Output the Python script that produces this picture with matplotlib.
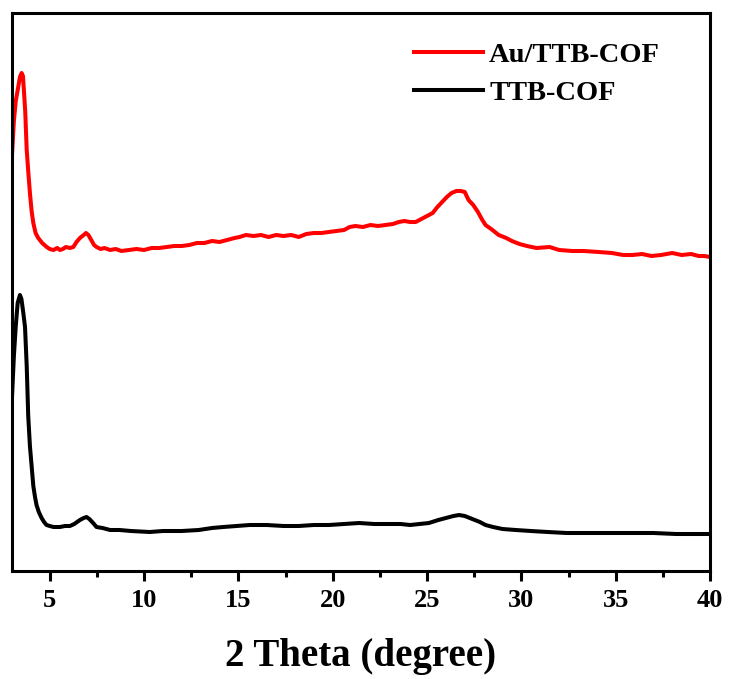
import matplotlib
matplotlib.use("Agg")
import matplotlib.pyplot as plt
from matplotlib.ticker import MultipleLocator

# 2 theta (degree) and intensity (a.u.)
au_x = [3.0, 3.1, 3.2, 3.33, 3.42, 3.51, 3.58, 3.63, 3.7, 3.78, 3.86, 3.95, 4.04, 4.13, 4.25,
        4.39, 4.6, 4.84, 5.0, 5.2, 5.4, 5.54, 5.7, 5.85, 6.07, 6.25, 6.42, 6.6, 6.8, 6.92,
        7.05, 7.2, 7.35, 7.48, 7.7, 7.9, 8.2, 8.5, 8.8, 9.2, 9.6, 10.0, 10.4, 10.8, 11.2,
        11.6, 12.0, 12.4, 12.8, 13.2, 13.6, 14.0, 14.4, 14.8, 15.06, 15.4, 15.8, 16.2, 16.6,
        17.0, 17.4, 17.8, 18.2, 18.6, 19.0, 19.4, 19.8, 20.2, 20.6, 20.9, 21.2, 21.6, 22.0,
        22.4, 22.8, 23.2, 23.5, 23.8, 24.1, 24.4, 24.7, 25.0, 25.3, 25.55, 25.8, 26.05, 26.3,
        26.55, 26.8, 27.0, 27.2, 27.45, 27.7, 27.9, 28.1, 28.4, 28.8, 29.2, 29.5, 29.9, 30.3,
        30.8, 31.5, 32.0, 32.7, 33.3, 34.1, 34.8, 35.4, 35.9, 36.4, 36.9, 37.4, 38.0, 38.5,
        39.0, 39.4, 39.7, 40.0]
au_y = [416, 450, 470, 484, 494, 498, 495, 481, 460, 421, 400, 378, 360, 348, 338,
        333, 328, 324, 322, 321, 323, 321, 322, 324, 323, 324, 329, 333, 336, 338,
        336, 331, 326, 324, 322, 323, 321, 322, 320, 321, 322, 321, 323, 323, 324,
        325, 325, 326, 328, 328, 330, 329, 331, 333, 334, 336, 335, 336, 334, 336,
        335, 336, 334, 337, 338, 338, 339, 340, 341, 344, 345, 344, 346, 345, 346,
        347, 349, 350, 349, 349, 352, 355, 358, 364, 369, 374, 378, 380, 380, 379,
        371, 366, 359, 352, 346, 342, 336, 333, 330, 327, 325, 323, 324, 321, 320,
        320, 319, 318, 316, 316, 317, 315, 316, 318, 316, 317, 315, 315, 314]

cof_x = [3.0, 3.1, 3.2, 3.3, 3.42, 3.5, 3.6, 3.69, 3.78, 3.86, 3.95, 4.04, 4.13, 4.22, 4.3,
         4.42, 4.57, 4.7, 4.83, 5.0, 5.2, 5.54, 5.8, 6.07, 6.3, 6.6, 6.8, 6.95, 7.1, 7.3,
         7.48, 7.8, 8.2, 8.7, 9.3, 10.3, 11.0, 12.0, 12.9, 13.6, 14.2, 14.9, 15.6, 16.5,
         17.4, 18.2, 19.0, 19.8, 20.6, 21.4, 22.2, 23.0, 23.6, 24.1, 24.6, 25.1, 25.6, 26.0,
         26.4, 26.7, 27.0, 27.4, 27.8, 28.1, 28.5, 29.0, 29.7, 30.5, 31.4, 32.4, 33.5, 34.7,
         35.9, 37.0, 38.2, 39.2, 40.0]
cof_y = [174, 215, 245, 268, 276, 272, 258, 244, 205, 155, 125, 105, 85, 74, 66,
         59, 53, 49, 46, 45, 44, 44, 45, 45, 47, 51, 53, 54, 52, 48,
         44, 43, 41, 41, 40, 39, 40, 40, 41, 43, 44, 45, 46, 46,
         45, 45, 46, 46, 47, 48, 47, 47, 47, 46, 47, 48, 51, 53,
         55, 56, 55, 52, 49, 46, 44, 42, 41, 40, 39, 38, 38, 38,
         38, 38, 37, 37, 37]

labels = ["Au/TTB-COF", "TTB-COF"]
colors = ["#ff0000", "#000000"]

plt.rcParams['font.family'] = ['Liberation Serif', 'DejaVu Serif']
plt.rcParams['font.weight'] = 'bold'

fig = plt.figure(figsize=(7.29, 6.79), dpi=100)
ax = fig.add_axes([12/729, 1 - 571/679, (710 - 12)/729, (571 - 13)/679])

ax.plot(au_x, au_y, color=colors[0], lw=2.9, label=labels[0])
ax.plot(cof_x, cof_y, color=colors[1], lw=2.9, label=labels[1])

ax.set_xlim(3, 40)
ax.set_ylim(0, 558)
ax.xaxis.set_major_locator(MultipleLocator(5))
ax.xaxis.set_minor_locator(MultipleLocator(2.5))
ax.set_yticks([])
for s in ax.spines.values():
    s.set_linewidth(2.2)
ax.tick_params(axis='x', which='major', direction='out', length=7, width=2.2,
               labelsize=19, pad=6)
ax.tick_params(axis='x', which='minor', direction='out', length=4.5, width=2.2)
for t in ax.get_xticklabels():
    t.set_fontweight('bold')
ax.set_xlabel("2 Theta (degree)", fontsize=28, fontweight='bold', labelpad=18.5)

leg = ax.legend(loc='upper left', bbox_to_anchor=(0.560, 0.968), frameon=False,
                prop={'size': 20.5, 'weight': 'bold'}, handlelength=2.42,
                handletextpad=0.21, labelspacing=0.43, borderaxespad=0)

fig.savefig("out.png", dpi=100)
